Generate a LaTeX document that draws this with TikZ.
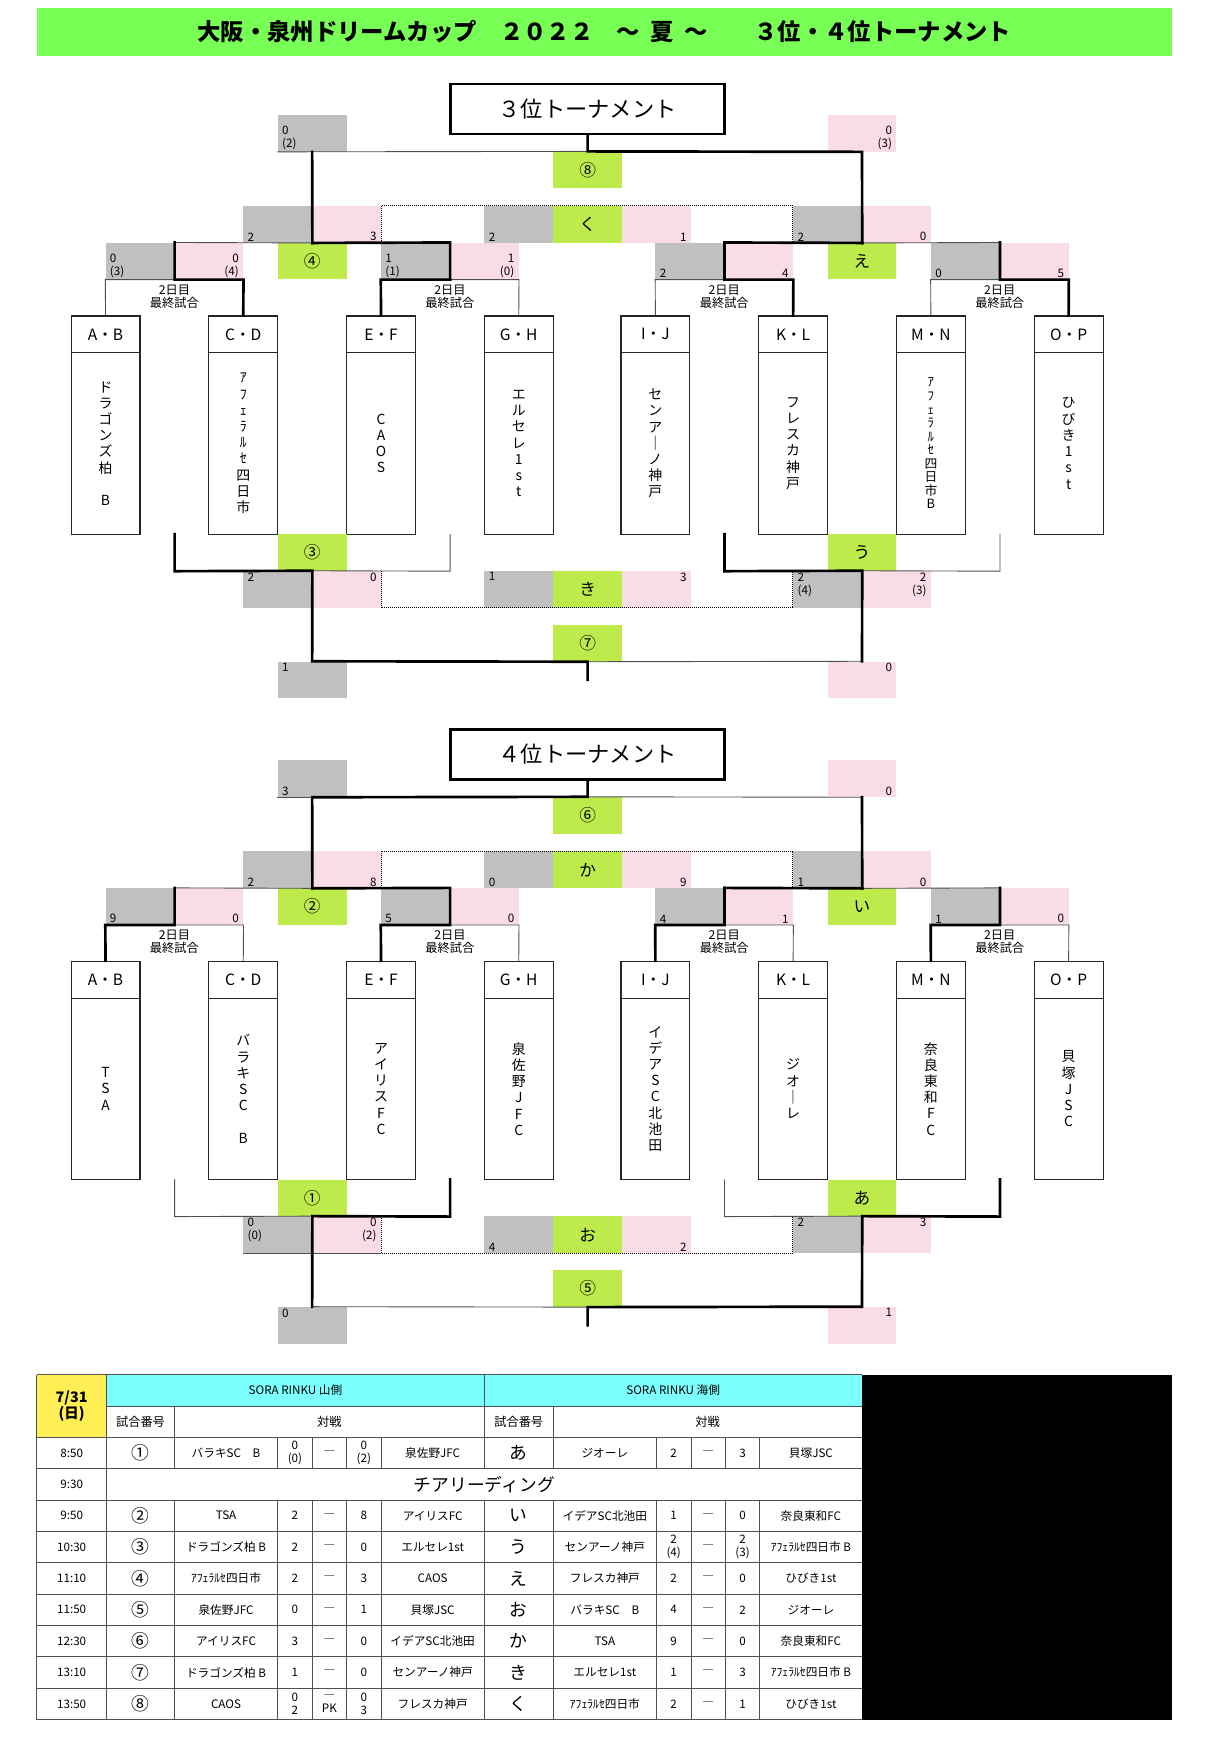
\documentclass[tikz,border=0pt]{standalone}
\usepackage{fontspec}
\setmainfont{Noto Sans CJK JP}
\usetikzlibrary{positioning}

\definecolor{bannergreen}{HTML}{77FF55}
\definecolor{taggreen}{HTML}{BDEB4B}
\definecolor{boxgray}{HTML}{C0C0C0}
\definecolor{boxpink}{HTML}{F9DCE6}
\definecolor{headcyan}{HTML}{7CFFFF}
\definecolor{dateyellow}{HTML}{FFEF55}
\definecolor{rulegray}{HTML}{505050}

\newcommand{\fsz}[2]{\fontsize{#1}{#2}\selectfont}

\tikzset{
  scorebase/.style={minimum width=62pt, minimum height=33pt, inner sep=0pt},
  sclbl/.style={inner xsep=4pt, inner ysep=1.5pt, font=\fsz{10.5}{12}},
  gup/.style={scorebase, fill=boxgray, label={[sclbl, align=left, anchor=south west]south west:{#1}}},
  pup/.style={scorebase, fill=boxpink, label={[sclbl, align=right, anchor=south east]south east:{#1}}},
  gdn/.style={scorebase, fill=boxgray, label={[sclbl, align=left, anchor=north west]north west:{#1}}},
  pdn/.style={scorebase, fill=boxpink, label={[sclbl, align=right, anchor=north east]north east:{#1}}},
  tag/.style={scorebase, fill=taggreen, font=\fsz{15}{15}},
  titlebox/.style={draw, line width=2.4pt, minimum width=247pt, minimum height=45pt, inner sep=0pt, font=\fsz{20}{20}},
  teamhead/.style={draw=black!85, line width=1pt, minimum width=62pt, minimum height=33pt, inner sep=0pt, font=\fsz{14}{14}},
  teambody/.style={draw=black!85, line width=1pt, minimum width=62pt, minimum height=163.5pt, inner sep=0pt, align=center, font=\fsz{12.5}{14.6}},
  daylbl/.style={align=center, inner sep=0pt, font=\fsz{11}{11.5}},
  win/.style={line width=2.4pt, line join=miter, line cap=rect},
  lose/.style={draw=rulegray, line width=0.8pt},
  loser/.style={densely dotted, line width=0.8pt},
  cell/.style={inner sep=0pt, font=\fsz{10.5}{11.5}, align=center},
  big/.style={inner sep=0pt, font=\fsz{16}{16}},
  rule/.style={draw=rulegray, line width=0.8pt},
}

\begin{document}
\begin{tikzpicture}[x=1pt, y=-1pt]
\useasboundingbox (0,0) rectangle (1100,1570);

% banner
\node[fill=bannergreen, minimum width=1022pt, minimum height=43pt, inner sep=0pt,
      font=\bfseries\fsz{21}{21}] (banner) at (544,28.5)
      {大阪・泉州ドリームカップ　２０２２　～\hspace{0.45em}夏\hspace{0.45em}～　　３位・４位トーナメント};

%%% 3位トーナメント
\node[titlebox] (title3) at (529,98) {３位トーナメント};
\node[gup={0\\(2)}] (aTopL) at (281,120) {};
\node[pup={0\\(3)}] (aTopR) at (776,120) {};
\node[tag] (aTag8) at (529,153) {⑧};

\node[gup=2] (aQ4l) at (250,202) {};
\node[pup=3] (aQ4r) at (312,202) {};
\node[gup=2] (aKul) at (467,202) {};
\node[tag] (aTagKu) at (529,202) {く};
\node[pup=1] (aKur) at (591,202) {};
\node[gup=2] (aQEl) at (745,202) {};
\node[pup=0] (aQEr) at (807,202) {};

\node[gup={0\\(3)}] (aR1l) at (126,235) {};
\node[pup={0\\(4)}] (aR1r) at (188,235) {};
\node[tag] (aTag4) at (281,235) {④};
\node[gup={1\\(1)}] (aR2l) at (374,235) {};
\node[pup={1\\(0)}] (aR2r) at (436,235) {};
\node[gup=2] (aR3l) at (621,235) {};
\node[pup=4] (aR3r) at (683,235) {};
\node[tag] (aTagE) at (776,235) {え};
\node[gup=0] (aR4l) at (869,235) {};
\node[pup=5] (aR4r) at (931,235) {};

\node[daylbl] (aDay1) at (157,267) {2日目\\最終試合};
\node[daylbl] (aDay2) at (405,267) {2日目\\最終試合};
\node[daylbl] (aDay3) at (652,267) {2日目\\最終試合};
\node[daylbl] (aDay4) at (900,267) {2日目\\最終試合};

\node[teamhead] (aHAB) at (95,301) {A・B};
\node[teamhead] (aHCD) at (219,301) {C・D};
\node[teamhead] (aHEF) at (343,301) {E・F};
\node[teamhead] (aHGH) at (467,301) {G・H};
\node[teamhead] (aHIJ) at (590,301) {I・J};
\node[teamhead] (aHKL) at (714,301) {K・L};
\node[teamhead] (aHMN) at (838,301) {M・N};
\node[teamhead] (aHOP) at (962,301) {O・P};
\node[teambody] (aNAB) at (95,399.25) {ド\\ラ\\ゴ\\ン\\ズ\\柏\\~\\B};
\node[teambody] (aNCD) at (219,399.25) {ｱ\\ﾌ\\ｪ\\ﾗ\\ﾙ\\ｾ\\四\\日\\市};
\node[teambody] (aNEF) at (343,399.25) {C\\A\\O\\S};
\node[teambody] (aNGH) at (467,399.25) {エ\\ル\\セ\\レ\\1\\s\\t};
\node[teambody] (aNIJ) at (590,399.25) {セ\\ン\\ア\\｜\\ノ\\神\\戸};
\node[teambody] (aNKL) at (714,399.25) {フ\\レ\\ス\\カ\\神\\戸};
\node[teambody, font=\fsz{11.5}{12.2}] (aNMN) at (838,399.25) {ｱ\\ﾌ\\ｪ\\ﾗ\\ﾙ\\ｾ\\四\\日\\市\\B};
\node[teambody] (aNOP) at (962,399.25) {ひ\\び\\き\\1\\s\\t};

\node[tag] (aTag3) at (281,497.5) {③};
\node[tag] (aTagU) at (776,497.5) {う};
\node[gdn=2] (aQ3l) at (250,530.5) {};
\node[pdn=0] (aQ3r) at (312,530.5) {};
\node[gdn=1] (aKil) at (467,530.5) {};
\node[tag] (aTagKi) at (529,530.5) {き};
\node[pdn=3] (aKir) at (591,530.5) {};
\node[gdn={2\\(4)}] (aQUl) at (745,530.5) {};
\node[pdn={2\\(3)}] (aQUr) at (807,530.5) {};
\node[tag] (aTag7) at (529,579) {⑦};
\node[gdn=1] (aBotL) at (281,612) {};
\node[pdn=0] (aBotR) at (776,612) {};
\coordinate (aEnd) at (529,612);

% brackets
\draw[lose] (aTopL.south west) -- (aTag8.north);
\draw[lose] (aR1l.north east) -- (aQ4l.south east);
\draw[lose] (aR1l.south east) -- (aR1l.south west) -- (aHAB.north);
\draw[lose] (aR2l.south east) -- (aR2r.south east) -- (aHGH.north);
\draw[lose] (aQEl.south east) -- (aR4l.north east);
\draw[lose] (aR3l.south east) -- (aR3l.south west) -- (aHIJ.north);
\draw[lose] (aR4l.south east) -- (aR4l.south west) -- (aHMN.north);
\draw[win] (title3.south) -- (aTag8.north) -- (aTopR.south) -- (aQEl.south east);
\draw[win] (aTopL.south) -- (aQ4l.south east);
\draw[win] (aQ4l.south east) -- (aR2l.north east) -- (aR2l.south east);
\draw[win] (aR1l.north east) -- (aR1l.south east) -- (aR1r.south east) -- (aHCD.north);
\draw[win] (aR2l.south east) -- (aR2l.south west) -- (aHEF.north);
\draw[win] (aR3l.north east) -- (aQEl.south east);
\draw[win] (aR3l.north east) -- (aR3l.south east) -- (aR3r.south east) -- (aHKL.north);
\draw[win] (aR4l.north east) -- (aR4l.south east) -- (aR4r.south east) -- (aHOP.north);
\draw[loser] (aQ4r.south east) -- (aQ4r.north east) -- (aQEl.north west) -- (aQEl.south west);

\draw[lose] (aQ3l.north east) -- (aR2l.east |- aTag3.south) -- (aR2l.east |- aTag3.north);
\draw[lose] (aTag7.south) -- (aBotR.north);
\draw[lose] (aQUl.north east) -- (aR4l.east |- aTagU.south) -- (aR4l.east |- aTagU.north);
\draw[win] (aR1l.east |- aTag3.north) -- (aR1l.east |- aTag3.south) -- (aQ3l.north east)
  -- (aBotL.north) -- (aTag7.south) -- (aEnd);
\draw[win] (aR3l.east |- aTagU.north) -- (aR3l.east |- aTagU.south) -- (aQUl.north east) -- (aBotR.north);
\draw[loser] (aQ3r.north east) -- (aQ3r.south east) -- (aQUl.south west) -- (aQUl.north west);

%%% 4位トーナメント
\begin{scope}[shift={(0,581)}]
\node[titlebox] (title4) at (529,98) {４位トーナメント};
\node[gup=3] (bTopL) at (281,120) {};
\node[pup=0] (bTopR) at (776,120) {};
\node[tag] (bTag6) at (529,153) {⑥};

\node[gup=2] (bQ4l) at (250,202) {};
\node[pup=8] (bQ4r) at (312,202) {};
\node[gup=0] (bKal) at (467,202) {};
\node[tag] (bTagKa) at (529,202) {か};
\node[pup=9] (bKar) at (591,202) {};
\node[gup=1] (bQEl) at (745,202) {};
\node[pup=0] (bQEr) at (807,202) {};

\node[gup=9] (bR1l) at (126,235) {};
\node[pup=0] (bR1r) at (188,235) {};
\node[tag] (bTag2) at (281,235) {②};
\node[gup=5] (bR2l) at (374,235) {};
\node[pup=0] (bR2r) at (436,235) {};
\node[gup=4] (bR3l) at (621,235) {};
\node[pup=1] (bR3r) at (683,235) {};
\node[tag] (bTagI) at (776,235) {い};
\node[gup=1] (bR4l) at (869,235) {};
\node[pup=0] (bR4r) at (931,235) {};

\node[daylbl] (bDay1) at (157,267) {2日目\\最終試合};
\node[daylbl] (bDay2) at (405,267) {2日目\\最終試合};
\node[daylbl] (bDay3) at (652,267) {2日目\\最終試合};
\node[daylbl] (bDay4) at (900,267) {2日目\\最終試合};

\node[teamhead] (bHAB) at (95,301) {A・B};
\node[teamhead] (bHCD) at (219,301) {C・D};
\node[teamhead] (bHEF) at (343,301) {E・F};
\node[teamhead] (bHGH) at (467,301) {G・H};
\node[teamhead] (bHIJ) at (590,301) {I・J};
\node[teamhead] (bHKL) at (714,301) {K・L};
\node[teamhead] (bHMN) at (838,301) {M・N};
\node[teamhead] (bHOP) at (962,301) {O・P};
\node[teambody] (bNAB) at (95,399.25) {T\\S\\A};
\node[teambody] (bNCD) at (219,399.25) {バ\\ラ\\キ\\S\\C\\~\\B};
\node[teambody] (bNEF) at (343,399.25) {ア\\イ\\リ\\ス\\F\\C};
\node[teambody] (bNGH) at (467,399.25) {泉\\佐\\野\\J\\F\\C};
\node[teambody] (bNIJ) at (590,399.25) {イ\\デ\\ア\\S\\C\\北\\池\\田};
\node[teambody] (bNKL) at (714,399.25) {ジ\\オ\\｜\\レ};
\node[teambody] (bNMN) at (838,399.25) {奈\\良\\東\\和\\F\\C};
\node[teambody] (bNOP) at (962,399.25) {貝\\塚\\J\\S\\C};

\node[tag] (bTag1) at (281,497.5) {①};
\node[tag] (bTagA) at (776,497.5) {あ};
\node[gdn={0\\(0)}] (bQ3l) at (250,530.5) {};
\node[pdn={0\\(2)}] (bQ3r) at (312,530.5) {};
\node[gup=4] (bOl) at (467,530.5) {};
\node[tag] (bTagO) at (529,530.5) {お};
\node[pup=2] (bOr) at (591,530.5) {};
\node[gdn=2] (bQAl) at (745,530.5) {};
\node[pdn=3] (bQAr) at (807,530.5) {};
\node[tag] (bTag5) at (529,579) {⑤};
\node[gdn=0] (bBotL) at (281,612) {};
\node[pdn=1] (bBotR) at (776,612) {};
\coordinate (bEnd) at (529,612);

% brackets
\draw[lose] (bTopL.south west) -- (bTopL.south);
\draw[lose] (bTag6.north) -- (bTopR.south);
\draw[lose] (bR1l.north east) -- (bQ4l.south east);
\draw[lose] (bQEl.south east) -- (bR4l.north east);
\draw[lose] (bR1l.south east) -- (bR1r.south east) -- (bHCD.north);
\draw[lose] (bR2l.south east) -- (bR2r.south east) -- (bHGH.north);
\draw[lose] (bR3l.south east) -- (bR3r.south east) -- (bHKL.north);
\draw[lose] (bR4l.south east) -- (bR4r.south east) -- (bHOP.north);
\draw[win] (bQ4l.south east) -- (bTopL.south) -- (bTag6.north) -- (title4.south);
\draw[win] (bTopR.south) -- (bQEl.south east);
\draw[win] (bQ4l.south east) -- (bR2l.north east) -- (bR2l.south east) -- (bR2l.south west) -- (bHEF.north);
\draw[win] (bR1l.north east) -- (bR1l.south east) -- (bR1l.south west) -- (bHAB.north);
\draw[win] (bR3l.north east) -- (bQEl.south east);
\draw[win] (bR3l.north east) -- (bR3l.south east) -- (bR3l.south west) -- (bHIJ.north);
\draw[win] (bR4l.north east) -- (bR4l.south east) -- (bR4l.south west) -- (bHMN.north);
\draw[loser] (bQ4r.south east) -- (bQ4r.north east) -- (bQEl.north west) -- (bQEl.south west);

\draw[lose] (bR1l.east |- bTag1.north) -- (bR1l.east |- bTag1.south) -- (bQ3l.north east);
\draw[lose] (bQ3l.south west) -- (bQ3r.south east);
\draw[lose] (bBotL.north) -- (bTag5.south);
\draw[lose] (bR3l.east |- bTagA.north) -- (bR3l.east |- bTagA.south) -- (bQAl.north east);
\draw[win] (bQ3l.north east) -- (bR2l.east |- bTag1.south) -- (bR2l.east |- bTag1.north);
\draw[win] (bQ3l.north east) -- (bBotL.north);
\draw[win] (bEnd) -- (bTag5.south) -- (bBotR.north) -- (bQAl.north east)
  -- (bR4l.east |- bTagA.south) -- (bR4l.east |- bTagA.north);
\draw[loser] (bQ3r.north east) -- (bQ3r.south east) -- (bQAl.south west) -- (bQAl.north west);
\end{scope}

%%% 日程表
\fill[dateyellow] (33,1237.5) rectangle (96,1293.9);
\fill[headcyan] (96,1237.5) rectangle (776,1265.7);
\fill[black] (776,1237.5) rectangle (1055,1548);
\foreach \y in {1237.5,1293.9,1322.2,1350.4,1378.6,1406.9,1435.1,1463.3,1491.6,1519.8,1548}
  \draw[rule] (33,\y) -- (776,\y);
\draw[rule] (96,1265.7) -- (776,1265.7);
\draw[rule] (33,1237.5) -- (33,1548);
\draw[rule] (96,1237.5) -- (96,1548);
\draw[rule] (436,1237.5) -- (436,1322.2) (436,1350.4) -- (436,1548);
\foreach \x in {157,498}
  \draw[rule] (\x,1265.7) -- (\x,1322.2) (\x,1350.4) -- (\x,1548);
\foreach \x in {250,281,312,343,591,622,653,684}
  \draw[rule] (\x,1293.9) -- (\x,1322.2) (\x,1350.4) -- (\x,1548);

\node[font=\bfseries\fsz{13}{14}, align=center, inner sep=0pt] (date) at (64.5,1265.7) {7/31\\(日)};
\node[cell] (hill) at (266,1251.6) {SORA RINKU 山側};
\node[cell] (sea) at (606,1251.6) {SORA RINKU 海側};
\node[cell, font=\fsz{11}{11}] (noL) at (126.5,1279.8) {試合番号};
\node[cell, font=\fsz{11}{11}] (vsL) at (296.5,1279.8) {対戦};
\node[cell, font=\fsz{11}{11}] (noR) at (467,1279.8) {試合番号};
\node[cell, font=\fsz{11}{11}] (vsR) at (637,1279.8) {対戦};
\node[cell] (tm2) at (64.5,1336.3) {9:30};
\node[big] (cheer) at (436,1336.3) {チアリーディング};

\foreach \k/\Tm/\Ga/\Ta/\Pa/\Da/\Pb/\Tb/\Gb/\Tc/\Pc/\Db/\Pd/\Td in {
  1/8:50/①/バラキSC　B/{0\\(0)}/―/{0\\(2)}/泉佐野JFC/あ/ジオーレ/2/―/3/貝塚JSC,
  3/9:50/②/TSA/2/―/8/アイリスFC/い/イデアSC北池田/1/―/0/奈良東和FC,
  4/10:30/③/ドラゴンズ柏 B/2/―/0/エルセレ1st/う/センアーノ神戸/{2\\(4)}/―/{2\\(3)}/ｱﾌｪﾗﾙｾ四日市 B,
  5/11:10/④/ｱﾌｪﾗﾙｾ四日市/2/―/3/CAOS/え/フレスカ神戸/2/―/0/ひびき1st,
  6/11:50/⑤/泉佐野JFC/0/―/1/貝塚JSC/お/バラキSC　B/4/―/2/ジオーレ,
  7/12:30/⑥/アイリスFC/3/―/0/イデアSC北池田/か/TSA/9/―/0/奈良東和FC,
  8/13:10/⑦/ドラゴンズ柏 B/1/―/0/センアーノ神戸/き/エルセレ1st/1/―/3/ｱﾌｪﾗﾙｾ四日市 B,
  9/13:50/⑧/CAOS/{0\\2}/{―\\PK}/{0\\3}/フレスカ神戸/く/ｱﾌｪﾗﾙｾ四日市/2/―/1/ひびき1st}
{
  \node[cell] (tm\k) at (64.5,{1308+28.23*(\k-1)}) {\Tm};
  \node[big] (ga\k) at (126.5,{1308+28.23*(\k-1)}) {\Ga};
  \node[cell] (ta\k) at (203.5,{1308+28.23*(\k-1)}) {\Ta};
  \node[cell] (pa\k) at (265.5,{1308+28.23*(\k-1)}) {\Pa};
  \node[cell] (da\k) at (296.5,{1308+28.23*(\k-1)}) {\Da};
  \node[cell] (pb\k) at (327.5,{1308+28.23*(\k-1)}) {\Pb};
  \node[cell] (tb\k) at (389.5,{1308+28.23*(\k-1)}) {\Tb};
  \node[big] (gb\k) at (467,{1308+28.23*(\k-1)}) {\Gb};
  \node[cell] (tc\k) at (544.5,{1308+28.23*(\k-1)}) {\Tc};
  \node[cell] (pc\k) at (606.5,{1308+28.23*(\k-1)}) {\Pc};
  \node[cell] (db\k) at (637.5,{1308+28.23*(\k-1)}) {\Db};
  \node[cell] (pd\k) at (668.5,{1308+28.23*(\k-1)}) {\Pd};
  \node[cell] (td\k) at (730,{1308+28.23*(\k-1)}) {\Td};
}
\end{tikzpicture}
\end{document}
